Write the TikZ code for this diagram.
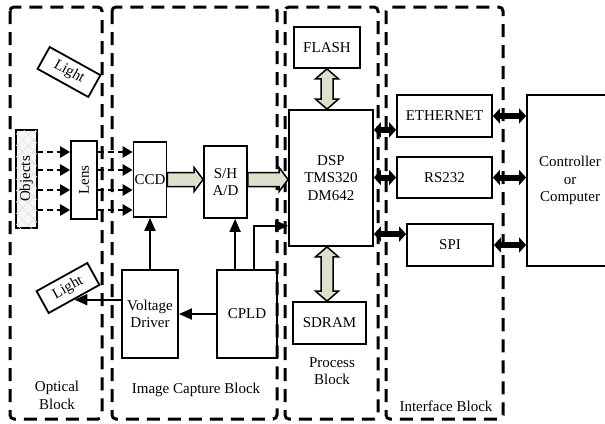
\documentclass[tikz,border=0pt]{standalone}
\usepackage{fontspec}
\setmainfont{Liberation Serif}
\usetikzlibrary{positioning,arrows.meta,calc,patterns.meta}
\definecolor{busgreen}{RGB}{221,225,203}

% hollow bus arrow, left to right
\newcommand{\hbus}[2]{%
  \filldraw[busline] let \p1=#1, \p2=#2 in
    (\x1,\y1+7pt) -- (\x2-9pt,\y1+7pt) -- (\x2-9pt,\y1+12pt) -- (\x2,\y1)
    -- (\x2-9pt,\y1-12pt) -- (\x2-9pt,\y1-7pt) -- (\x1,\y1-7pt) -- cycle;}
% hollow bus arrow, both ways, top to bottom
\newcommand{\vbus}[2]{%
  \filldraw[busline] let \p1=#1, \p2=#2 in
    (\x1,\y1) -- (\x1+11.5pt,\y1-10pt) -- (\x1+6pt,\y1-10pt) -- (\x1+6pt,\y2+10pt)
    -- (\x1+11.5pt,\y2+10pt) -- (\x1,\y2) -- (\x1-11.5pt,\y2+10pt) -- (\x1-6pt,\y2+10pt)
    -- (\x1-6pt,\y1-10pt) -- (\x1-11.5pt,\y1-10pt) -- cycle;}

\begin{document}
\begin{tikzpicture}[x=1pt, y=-1pt, font=\fontsize{15}{17.5}\selectfont,
  blk/.style={draw, line width=1.8pt, inner sep=1pt, align=center},
  lightbox/.style={draw, line width=1.8pt, minimum width=58pt, minimum height=25pt, inner sep=1pt},
  blockframe/.style={line width=3pt, dash pattern=on 13pt off 8pt, rounded corners=4pt},
  arr/.style={line width=2pt, -{Triangle[length=13pt,width=11pt]}},
  rayarr/.style={line width=2.8pt, dash pattern=on 6pt off 4pt, -{Triangle[length=10pt,width=11pt]}},
  blkbus/.style={line width=6pt, {Triangle[length=7pt,width=15pt]}-{Triangle[length=7pt,width=15pt]}},
  busline/.style={draw=black, fill=busgreen, line width=1.5pt, line join=miter},
  objbox/.style={blk, preaction={fill=black!3},
    pattern={Lines[angle=45,distance=8pt,line width=0.6pt]}, pattern color=black!12,
    postaction={pattern={Lines[angle=-45,distance=8pt,line width=0.6pt]}, pattern color=black!12}}]
\useasboundingbox (0,0) rectangle (605,423);
% the four blocks
\draw[blockframe] (10,7) rectangle (102,419);
\draw[blockframe] (112,7) rectangle (277,419);
\draw[blockframe] (285,7) rectangle (378,419);
\draw[blockframe] (386,7) rectangle (503,419);
\node[align=center] (optlbl) at (57,395.5) {Optical\\Block};
\node (caplbl) at (196,390) {Image Capture Block};
\node[align=center] (proclbl) at (332,371) {Process\\Block};
\node (ifclbl) at (446,406) {Interface Block};
% optical block
\node[lightbox, rotate=-29] (lighta) at (69,72) {Light};
\node[lightbox, rotate=29] (lightb) at (68,288) {Light};
\node[objbox, minimum width=21pt, minimum height=98pt] (objects) at (26.5,179) {\rotatebox{90}{Objects}};
\node[blk, minimum width=26pt, minimum height=78pt] (lens) at (84,180) {\rotatebox{90}{Lens}};
% image capture block
\node[blk, minimum width=32pt, minimum height=75pt] (ccd) at (150,179.5) {CCD};
\node[blk, minimum width=43pt, minimum height=72pt] (sh) at (225.5,182) {S/H\\A/D};
\node[blk, minimum width=56pt, minimum height=88pt] (vd) at (150,314) {Voltage\\Driver};
\node[blk, minimum width=60pt, minimum height=88pt] (cpld) at (247,314) {CPLD};
% process block
\node[blk, minimum width=84pt, minimum height=136pt] (dsp) at (331,178) {DSP\\TMS320\\DM642};
\node[blk, minimum width=66pt, minimum height=41pt] (flash) at (327,47.5) {FLASH};
\node[blk, minimum width=73pt, minimum height=42pt] (sdram) at (329.5,323) {SDRAM};
% interface block
\node[blk, minimum width=95pt, minimum height=42pt] (ether) at (444.5,116) {ETHERNET};
\node[blk, minimum width=95pt, minimum height=41pt] (rs) at (444.5,177.5) {RS232};
\node[blk, minimum width=86pt, minimum height=42pt] (spi) at (450,245) {SPI};
\node[blk, minimum width=86pt, minimum height=171pt] (ctrl) at (570,180.5) {Controller\\or\\Computer};
% light rays
\foreach \dy in {-28,-10,10,30} {
  \coordinate (ray) at ($(lens.west)+(0,\dy)$);
  \draw[rayarr] (ray -| objects.east) -- (ray);
  \draw[rayarr] (ray -| lens.east) -- (ray -| ccd.west);
}
% image data path
\hbus{(ccd.east)}{(ccd.east -| sh.west)}
\hbus{(ccd.east -| sh.east)}{(ccd.east -| dsp.west)}
\vbus{(flash.south)}{(flash.south |- dsp.north)}
\vbus{(flash.south |- dsp.south)}{(flash.south |- sdram.north)}
% control lines
\coordinate (shtap) at ($(cpld.north west)+(19,0)$);
\coordinate (dsptap) at ($(cpld.north west)+(38,0)$);
\draw[arr] (vd.north) -- (ccd.south);
\draw[arr] (shtap) -- (shtap |- sh.south);
\draw[arr] (dsptap) |- ($(dsp.south west)+(0,-21)$);
\draw[arr] (cpld.west) -- (vd.east);
\draw[arr] (lightb.south -| vd.west) -- (lightb.south);
% interfaces
\coordinate (ethtap) at ($(ether.south west)+(0,-8)$);
\coordinate (spitap) at ($(spi.north west)+(0,11)$);
\draw[blkbus] (ethtap -| dsp.east) -- (ethtap);
\draw[blkbus] (rs.west -| dsp.east) -- (rs.west);
\draw[blkbus] (spitap -| dsp.east) -- (spitap);
\draw[blkbus] (ether.east) -- (ether.east -| ctrl.west);
\draw[blkbus] (rs.east) -- (rs.east -| ctrl.west);
\draw[blkbus] (spi.east) -- (spi.east -| ctrl.west);
\end{tikzpicture}
\end{document}
